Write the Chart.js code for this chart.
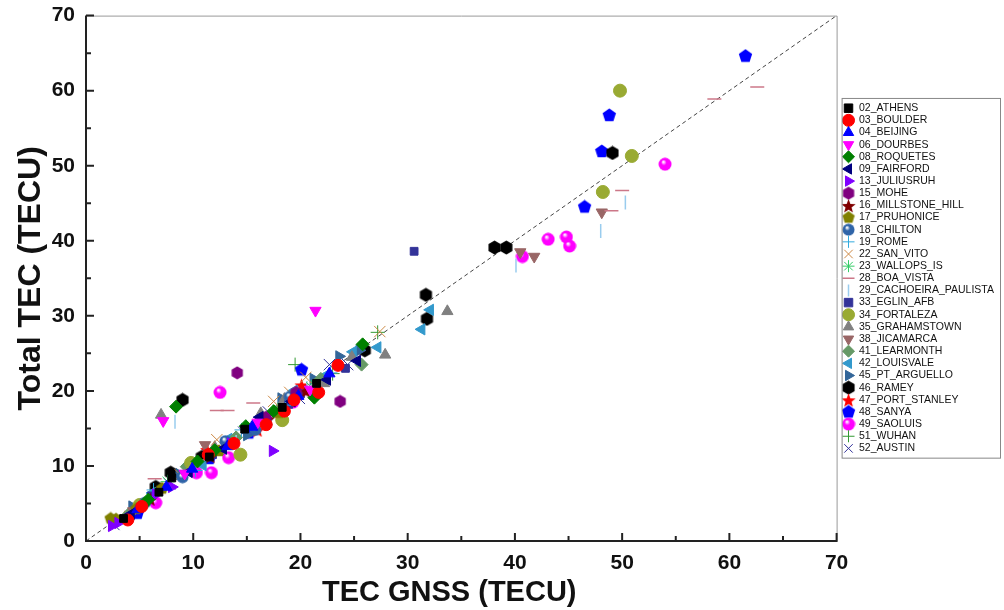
<!DOCTYPE html>
<html>
<head>
<meta charset="utf-8">
<script src="https://cdn.jsdelivr.net/npm/chart.js@4"></script>
<style>
html, body { margin: 0; background: #fff; }
</style>
</head>
<body>
<canvas id="chart" width="1004" height="610"></canvas>
<script>
// values: [TEC GNSS, Total TEC]
var athens = [[3.5,3.0],[6.8,6.5],[8.0,8.4],[11.5,11.2],[14.8,14.9],[18.3,17.8],[21.5,21.0]]
var boulder = [[3.9,2.8],[5.2,4.6],[11.4,11.5],[13.8,13.0],[16.8,15.5],[18.5,17.3],[19.4,18.8],[21.7,19.8],[23.5,23.4]]
var beijing = [[4.8,4.2],[7.5,7.2],[9.9,9.6],[13.2,12.6],[15.5,15.2],[19.8,19.3],[22.7,22.3]]
var dourbes = [[7.2,16.0],[21.4,30.7],[9.2,9.0],[16.0,15.8],[20.9,20.2]]
var roquetes = [[8.4,17.9],[25.8,26.2],[5.8,5.5],[10.4,10.6],[12.0,12.1],[14.9,15.3],[17.5,17.3],[21.3,19.1]]
var fairford = [[4.2,3.6],[9.6,9.2],[12.8,12.3],[16.2,16.5],[19.2,18.6],[22.5,21.5],[25.3,24.0]]
var juliusruh = [[17.4,12.0],[2.4,2.0],[3.0,2.4],[6.5,6.2],[8.0,7.2],[13.5,13.0]]
var mohe = [[14.1,22.4],[23.7,18.6],[19.6,19.8],[16.8,16.5]]
var millstone = [[6.0,5.6],[11.6,11.3],[17.0,16.3],[20.5,20.0]]
var pruhonice = [[2.3,3.0],[2.8,2.9],[4.7,4.3],[7.1,7.0],[12.4,12.0],[18.0,17.1]]
var chilton = [[5.5,5.1],[9.0,8.5],[13.0,13.3],[15.8,14.8],[19.0,19.2]]
var rome = [[6.3,6.8],[10.2,9.4],[14.5,14.8],[18.6,18.1],[22.8,22.4]]
var sanVito = [[8.8,8.8],[12.2,13.5],[17.5,18.6],[19.0,19.8],[20.5,21.8],[27.4,27.9]]
var wallops = [[7.6,7.9],[13.7,13.1],[17.9,17.5],[21.0,20.5]]
var boaVista = [[58.6,58.9],[62.6,60.5],[50.0,46.7],[49.0,44.0],[12.2,17.4],[13.2,17.4],[15.6,18.4],[6.4,8.3],[10.5,10.8]]
var cachoeira = [[50.3,45.1],[48.0,41.3],[40.1,36.7],[8.3,15.9],[20.6,20.4],[14.0,13.2]]
var eglin = [[30.6,38.6],[6.1,6.0],[11.8,11.5],[16.5,16.0],[18.9,18.2],[20.0,19.6],[24.2,23.0]]
var fortaleza = [[49.8,60.0],[50.9,51.3],[48.2,46.5],[14.4,11.5],[9.8,10.4],[18.3,16.1],[5.0,4.8]]
var grahamstown = [[7.0,16.8],[33.7,30.6],[27.9,24.8],[22.2,21.0],[24.8,24.5],[18.5,18.9],[16.3,17.0],[12.0,12.5]]
var jicamarca = [[40.5,38.5],[41.8,37.9],[48.1,43.8],[11.1,12.8],[4.4,4.0]]
var learmonth = [[25.7,23.5],[14.0,13.8],[17.8,17.3],[9.4,9.9],[21.9,21.6],[4.0,3.6]]
var louisvale = [[32.1,30.8],[31.3,28.2],[27.2,25.8],[16.8,15.6],[19.4,20.0],[10.9,10.1],[6.2,6.4],[13.3,13.6],[22.3,22.0],[24.9,25.2]]
var ptArguello = [[4.3,4.6],[8.7,8.9],[15.0,14.1],[18.2,19.0],[21.2,21.6],[23.6,24.6],[25.5,25.4]]
var ramey = [[38.1,39.1],[39.2,39.1],[49.1,51.7],[31.7,32.8],[31.8,29.6],[26.0,25.4],[9.0,18.8],[10.8,11.2],[7.9,9.1],[6.5,7.2]]
var portStanley = [[11.3,12.2],[3.6,3.2],[20.1,20.8],[16.0,14.8]]
var sanya = [[61.5,64.6],[48.8,56.7],[48.1,51.9],[46.5,44.5],[20.1,22.8],[4.8,3.7],[11.5,11.0],[15.2,14.4]]
var saoluis = [[54.0,50.2],[43.1,40.2],[44.8,40.5],[45.1,39.3],[40.7,37.9],[12.5,19.8],[13.3,11.1],[11.7,9.1],[10.3,9.1],[6.5,5.1],[19.3,18.5]]
var wuhan = [[27.2,27.8],[19.5,23.5],[9.2,9.4],[15.4,15.0],[23.0,22.3]]
var austin = [[22.7,23.5],[24.4,23.5],[2.6,2.2],[7.8,7.6],[12.5,12.0],[14.7,14.5],[17.0,17.2],[19.9,19.0]]

var axisTicks = [0, 10, 20, 30, 40, 50, 60, 70]

// marker images for the shapes chart.js does not have
function poly(n, color, size, start) {
    var c = document.createElement('canvas')
    c.width = size; c.height = size
    var g = c.getContext('2d')
    var r = size / 2 - 0.5
    g.beginPath()
    for (var i = 0; i < n; i++) {
        var a = start + i * 2 * Math.PI / n
        g.lineTo(size / 2 + r * Math.cos(a), size / 2 + r * Math.sin(a))
    }
    g.closePath()
    g.fillStyle = color
    g.fill()
    return c
}
function star(color, size) {
    var c = document.createElement('canvas')
    c.width = size; c.height = size
    var g = c.getContext('2d')
    var r = size / 2
    g.beginPath()
    for (var i = 0; i < 10; i++) {
        var a = -Math.PI / 2 + i * Math.PI / 5
        var rr = i % 2 ? r * 0.42 : r
        g.lineTo(r + rr * Math.cos(a), r + 1 + rr * Math.sin(a))
    }
    g.closePath()
    g.fillStyle = color
    g.fill()
    return c
}
function sphere(color, size) {
    var c = document.createElement('canvas')
    c.width = size; c.height = size
    var g = c.getContext('2d')
    var r = size / 2
    var grd = g.createRadialGradient(r * 0.75, r * 0.65, 0.5, r, r, r)
    grd.addColorStop(0, '#ffffff')
    grd.addColorStop(0.35, color)
    grd.addColorStop(1, color)
    g.beginPath()
    g.arc(r, r, r - 0.5, 0, 2 * Math.PI)
    g.fillStyle = grd
    g.fill()
    return c
}
var up = -Math.PI / 2

function ds(label, data, color, style, rotation, radius, width) {
    return {
        label: label,
        data: data.map(function (p) { return { x: p[0], y: p[1] } }),
        backgroundColor: color,
        borderColor: color,
        pointStyle: style,
        pointRotation: rotation || 0,
        pointRadius: radius || 6,
        pointHoverRadius: radius || 6,
        pointBorderWidth: width || 1
    }
}

var datasets = [
    ds('02_ATHENS', athens, '#000000', 'rect', 0, 5.5),
    ds('03_BOULDER', boulder, '#ff0000', 'circle'),
    ds('04_BEIJING', beijing, '#0000ff', 'triangle', 0, 6.5),
    ds('06_DOURBES', dourbes, '#ff00ff', 'triangle', 180, 6.5),
    ds('08_ROQUETES', roquetes, '#008000', 'rectRot', 0, 6.5),
    ds('09_FAIRFORD', fairford, '#000080', 'triangle', -90, 6.5),
    ds('13_JULIUSRUH', juliusruh, '#8000ff', 'triangle', 90, 6.5),
    ds('15_MOHE', mohe, '#800080', poly(6, '#800080', 14, up)),
    ds('16_MILLSTONE_HILL', millstone, '#800000', star('#800000', 15)),
    ds('17_PRUHONICE', pruhonice, '#808000', poly(5, '#808000', 14, up)),
    ds('18_CHILTON', chilton, '#336699', sphere('#2f64a8', 13)),
    ds('19_ROME', rome, '#33aadd', 'cross', 0, 7, 1),
    ds('22_SAN_VITO', sanVito, '#cc8844', 'crossRot', 0, 8, 1),
    ds('23_WALLOPS_IS', wallops, '#33cc66', 'star', 0, 7, 1),
    ds('28_BOA_VISTA', boaVista, '#cc7788', 'line', 0, 7, 1.5),
    ds('29_CACHOEIRA_PAULISTA', cachoeira, '#99ccee', 'line', 90, 7, 1.5),
    ds('33_EGLIN_AFB', eglin, '#333399', 'rect', 0, 5.5),
    ds('34_FORTALEZA', fortaleza, '#99aa33', 'circle', 0, 6.5),
    ds('35_GRAHAMSTOWN', grahamstown, '#808080', 'triangle', 0, 6.5),
    ds('38_JICAMARCA', jicamarca, '#996666', 'triangle', 180, 6.5),
    ds('41_LEARMONTH', learmonth, '#669966', 'rectRot', 0, 6.5),
    ds('42_LOUISVALE', louisvale, '#3399cc', 'triangle', -90, 6.5),
    ds('45_PT_ARGUELLO', ptArguello, '#336699', 'triangle', 90, 6.5),
    ds('46_RAMEY', ramey, '#000000', poly(6, '#000000', 15, up)),
    ds('47_PORT_STANLEY', portStanley, '#ff0000', star('#ff0000', 15)),
    ds('48_SANYA', sanya, '#0000ff', poly(5, '#0000ff', 15, up)),
    ds('49_SAOLUIS', saoluis, '#ff00ff', sphere('#ff00ff', 14)),
    ds('51_WUHAN', wuhan, '#339933', 'cross', 0, 7, 1),
    ds('52_AUSTIN', austin, '#333399', 'crossRot', 0, 8, 1)
]
datasets.push({
    label: 'diag',
    data: [{ x: 0, y: 0 }, { x: 70, y: 70 }],
    showLine: true,
    borderColor: '#444444',
    borderWidth: 1,
    borderDash: [4, 3],
    pointRadius: 0,
    order: 99
})

// frame, inward tick marks, legend box
var frame = {
    id: 'frame',
    afterLayout: function (chart) {
        // legend sits a few px away from the plot
        chart.legend.left += 5
        chart.legend.right += 5
    },
    afterDraw: function (chart) {
        var a = chart.chartArea, ctx = chart.ctx
        var xs = chart.scales.x, ys = chart.scales.y
        ctx.save()
        ctx.strokeStyle = '#999999'
        ctx.lineWidth = 1
        ctx.beginPath()
        ctx.moveTo(a.left, a.top + 0.5); ctx.lineTo(a.right + 0.5, a.top + 0.5)
        ctx.lineTo(a.right + 0.5, a.bottom)
        ctx.stroke()
        ctx.strokeStyle = '#222222'
        ctx.lineWidth = 2
        ctx.beginPath()
        ctx.moveTo(a.left, a.top); ctx.lineTo(a.left, a.bottom); ctx.lineTo(a.right + 1, a.bottom)
        for (var v = 0; v <= 70; v += 5) {
            var len = v % 10 === 0 ? 8 : 5
            var px = xs.getPixelForValue(v)
            ctx.moveTo(px, a.bottom); ctx.lineTo(px, a.bottom - len)
            var py = ys.getPixelForValue(v)
            ctx.moveTo(a.left, py); ctx.lineTo(a.left + len, py)
        }
        ctx.stroke()
        var lg = chart.legend
        if (lg && lg.legendHitBoxes.length) {
            var hb = lg.legendHitBoxes
            var top = hb[0].top - 5, bottom = hb[hb.length - 1].top + hb[hb.length - 1].height + 4
            ctx.strokeStyle = '#888888'
            ctx.lineWidth = 1
            ctx.strokeRect(lg.left + 0.5, top + 0.5, 1003 - lg.left - 3, bottom - top)
        }
        ctx.restore()
    }
}

var tickFont = { family: 'Liberation Sans, Arial, sans-serif', size: 21, weight: 'bold' }

var myChart = new Chart(document.getElementById('chart'), {
    type: 'scatter',
    data: { datasets: datasets },
    options: {
        responsive: false,
        animation: false,
        events: [],
        layout: { padding: { top: 13, left: 12, right: 5, bottom: 0 } },
        plugins: {
            tooltip: { enabled: false },
            legend: {
                position: 'right',
                fullSize: false,
                labels: {
                    usePointStyle: true,
                    boxHeight: 8.5,
                    color: '#111111',
                    padding: 1.65,
                    font: { family: 'Liberation Sans, Arial, sans-serif', size: 10.5 },
                    filter: function (item) { return item.text !== 'diag' }
                }
            }
        },
        scales: {
            x: {
                type: 'linear', min: 0, max: 70,
                afterBuildTicks: function (s) { s.ticks = axisTicks.map(function (v) { return { value: v } }) },
                afterFit: function (s) { s.height = 610 - 541 },
                grid: { display: false },
                border: { display: false },
                ticks: { color: '#111111', font: tickFont, padding: 2, maxRotation: 0 },
                title: {
                    display: true, text: 'TEC GNSS (TECU)   ', color: '#111111',
                    font: { family: 'Liberation Sans, Arial, sans-serif', size: 29, weight: 'bold' },
                    padding: { top: 0, bottom: 0 }
                }
            },
            y: {
                type: 'linear', min: 0, max: 70,
                afterBuildTicks: function (s) { s.ticks = axisTicks.map(function (v) { return { value: v } }) },
                afterFit: function (s) { s.width = 86 - 12 },
                grid: { display: false },
                border: { display: false },
                ticks: { color: '#111111', font: tickFont, padding: 3 },
                title: {
                    display: true, text: 'Total TEC (TECU)', color: '#111111',
                    font: { family: 'Liberation Sans, Arial, sans-serif', size: 32, weight: 'bold' },
                    padding: { top: 0, bottom: 0 }
                }
            }
        }
    },
    plugins: [frame]
})
</script>
</body>
</html>
